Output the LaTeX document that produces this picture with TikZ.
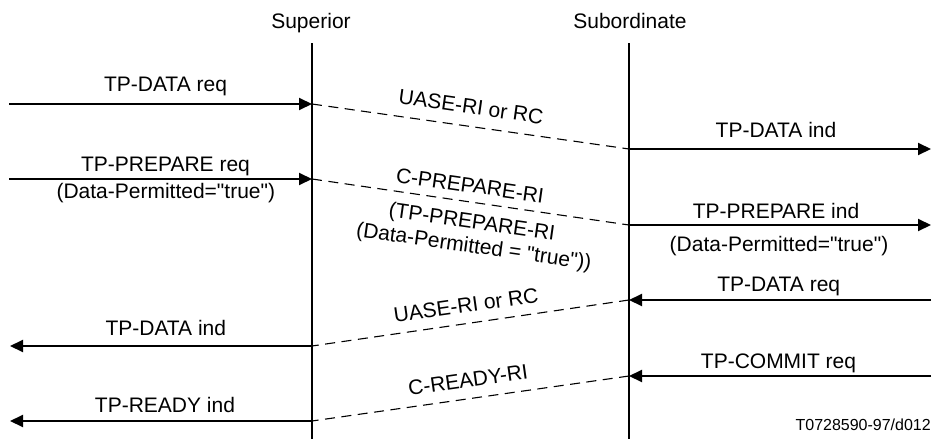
\documentclass[tikz,border=0pt]{standalone}
\usepackage{fontspec}
\newfontfamily\arialf{Liberation Sans}
\usetikzlibrary{arrows.meta}
\begin{document}
\begin{tikzpicture}[x=1pt,y=-1pt,
  life/.style={line width=2pt},
  msg/.style={line width=2pt,-{Triangle[length=13pt,width=12pt]}},
  pdu/.style={line width=1.1pt,dash pattern=on 10pt off 6.5pt},
  lbl/.style={font=\arialf\fontsize{21}{25}\selectfont,inner sep=0pt,anchor=base},
  foot/.style={font=\arialf\fontsize{16}{19}\selectfont,inner sep=0pt,anchor=base east}]
\useasboundingbox (0,0) rectangle (932,439);

% headers
\node[lbl] (sup) at (311,28) {Superior};
\node[lbl] (sub) at (630,28) {Subordinate};

% lifelines
\coordinate (supT) at (312,43);
\coordinate (supB) at (312,439);
\coordinate (subT) at (629,43);
\coordinate (subB) at (629,439);
\draw[life] (supT) -- (supB);
\draw[life] (subT) -- (subB);

% message points
\coordinate (L1) at (9,104);   \coordinate (S1) at (312,104);
\coordinate (B1) at (629,149); \coordinate (R1) at (931,149);
\coordinate (L2) at (9,179);   \coordinate (S2) at (312,179);
\coordinate (B2) at (629,225); \coordinate (R2) at (931,225);
\coordinate (R3) at (931,300); \coordinate (B3) at (629,300);
\coordinate (S3) at (312,346); \coordinate (L3) at (10,346);
\coordinate (R4) at (931,376); \coordinate (B4) at (629,376);
\coordinate (S4) at (312,421); \coordinate (L4) at (10,421);

% flow 1
\draw[msg] (L1) -- (S1);
\draw[pdu] (S1) -- (B1);
\draw[msg] (B1) -- (R1);
% flow 2
\draw[msg] (L2) -- (S2);
\draw[pdu] (S2) -- (B2);
\draw[msg] (B2) -- (R2);
% flow 3
\draw[msg] (R3) -- (B3);
\draw[pdu] (B3) -- (S3);
\draw[msg] (S3) -- (L3);
% flow 4
\draw[msg] (R4) -- (B4);
\draw[pdu] (B4) -- (S4);
\draw[msg] (S4) -- (L4);

% labels of solid arrows
\node[lbl] (t1) at (165.5,91.7) {TP-DATA req};
\node[lbl] (t2) at (165.5,171) {TP-PREPARE req};
\node[lbl] (t2b) at (165.8,198) {(Data-Permitted="true")};
\node[lbl] (t3) at (776,137) {TP-DATA ind};
\node[lbl] (t4) at (776,218) {TP-PREPARE ind};
\node[lbl] (t4b) at (779,251) {(Data-Permitted="true")};
\node[lbl] (t5) at (778.7,291.7) {TP-DATA req};
\node[lbl] (t6) at (778.5,368) {TP-COMMIT req};
\node[lbl] (t7) at (165.8,335) {TP-DATA ind};
\node[lbl] (t8) at (165,412.7) {TP-READY ind};

% labels of dashed lines
\node[lbl,rotate=-8.1] (p1) at (470,114) {UASE-RI or RC};
\node[lbl,rotate=-8.1] (p2) at (469,192.5) {C-PREPARE-RI};
\node[lbl,rotate=-8.1] (p2b) at (471,228.8) {(TP-PREPARE-RI};
\node[lbl,rotate=-8.1] (p2c) at (473,253) {(Data-Permitted = "true"))};
\node[lbl,rotate=8.1] (p3) at (467,312.5) {UASE-RI or RC};
\node[lbl,rotate=8.1] (p4) at (469,387.5) {C-READY-RI};

% figure reference
\node[foot] (ref) at (931,430) {T0728590-97/d012};
\end{tikzpicture}
\end{document}
